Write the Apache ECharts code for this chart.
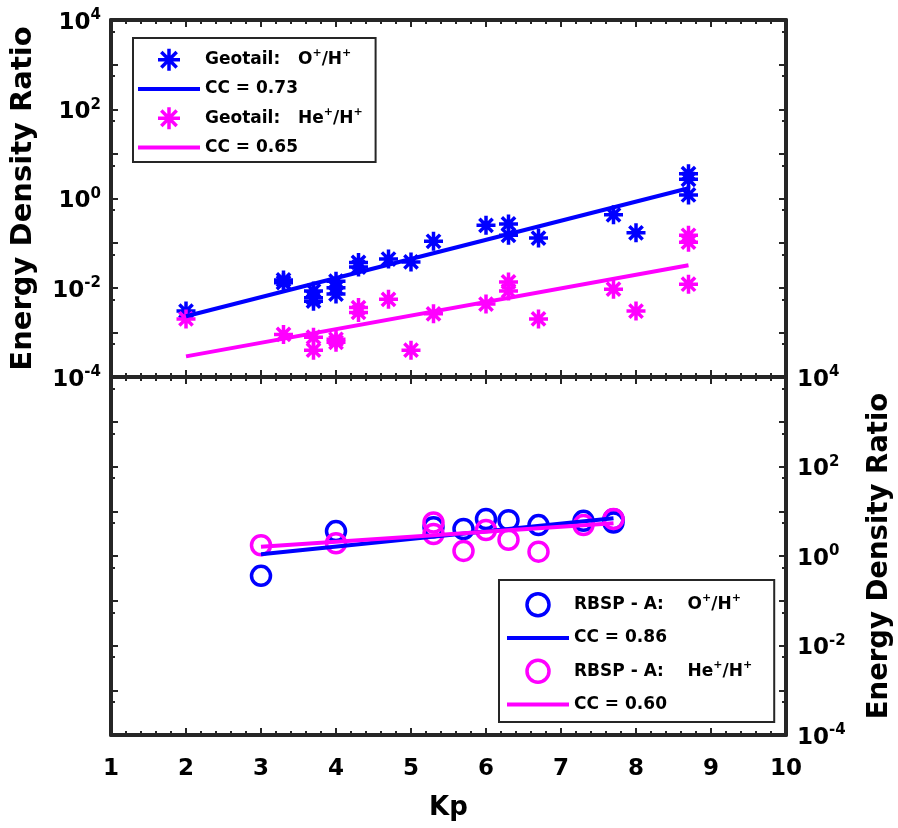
<!DOCTYPE html>
<html><head><meta charset="utf-8">
<script src="https://cdn.jsdelivr.net/npm/echarts@6/dist/echarts.min.js"></script>
<style>html,body{margin:0;padding:0;background:#fff;overflow:hidden}#c{width:898px;height:828px}</style>
</head><body><div id="c"></div>
<script>
// ---- data ----
const geoKpO  = [2, 3.3, 3.3, 3.7, 3.7, 3.7, 4.0, 4.0, 4.0, 4.3, 4.3, 4.7, 5.0, 5.3, 6.0, 6.3, 6.3, 6.7, 7.7, 8.0, 8.7, 8.7, 8.7];
const geoValO = [0.003, 0.015, 0.013, 0.0085, 0.006, 0.005, 0.014, 0.01, 0.0072, 0.037, 0.029, 0.044, 0.038, 0.11, 0.25, 0.27, 0.15, 0.13, 0.43, 0.17, 3.6, 2.7, 1.2];
const geoKpHe  = [2, 3.3, 3.7, 3.7, 4.0, 4.0, 4.3, 4.3, 4.7, 5.0, 5.3, 6.0, 6.3, 6.3, 6.7, 7.7, 8.0, 8.7, 8.7, 8.7];
const geoValHe = [0.002, 0.0009, 0.00078, 0.0004, 0.0007, 0.0006, 0.0036, 0.0028, 0.0055, 0.0004, 0.0026, 0.0043, 0.0135, 0.0085, 0.002, 0.0093, 0.003, 0.15, 0.105, 0.012];
const geoFitKp  = [2, 8.7];
const geoFitO   = [0.0023, 1.7];
const geoFitHe  = [0.00029, 0.032];

const rbKpO  = [3, 4, 5.3, 5.7, 6.0, 6.3, 6.7, 7.3, 7.7, 7.7];
const rbValO = [0.36, 3.6, 4.4, 4.0, 6.7, 6.3, 4.9, 6.1, 6.6, 5.6];
const rbKpHe  = [3, 4, 5.3, 5.3, 5.7, 6.0, 6.3, 6.7, 7.3, 7.7];
const rbValHe = [1.74, 1.93, 5.6, 3.1, 1.3, 3.8, 2.3, 1.25, 4.9, 6.7];
const rbFitKp = [3, 7.7];
const rbFitO  = [1.1, 7.0];
const rbFitHe = [1.6, 5.4];

const legendNames = ['Geotail:   O+/H+', 'CC = 0.73', 'Geotail:   He+/H+', 'CC = 0.65',
                     'RBSP - A:    O+/H+', 'CC = 0.86', 'RBSP - A:    He+/H+', 'CC = 0.60'];
const yLabelTitle = 'Energy Density Ratio';
const xLabelTitle = 'Kp';

// ---- styling ----
const F = 'DejaVu Sans';
const AX = '#262626';
const BLUE = '#0000ff', MAG = '#ff00ff';
const STAR = 'path://M0,-10L0,10M-10,0L10,0M-7,-7L7,7M-7,7L7,-7';
const LINEICON = 'path://M0,0L62,0L62,4L0,4Z';

const zip = (a, b) => a.map((v, i) => [v, b[i]]);

function xAxis(gridIndex, position, showLabel) {
  return {
    type: 'value', gridIndex, position, min: 1, max: 10, interval: 1,
    name: showLabel ? xLabelTitle : '', nameLocation: 'middle', nameGap: 60,
    nameTextStyle: { fontFamily: F, fontWeight: 'bold', fontSize: 26, color: '#000' },
    axisLine: { show: true, onZero: false, lineStyle: { color: AX, width: 4 } },
    axisTick: { show: true, inside: true, length: 7, lineStyle: { color: AX, width: 2 } },
    minorTick: { show: true, splitNumber: 5, length: 4, lineStyle: { color: AX, width: 2 } },
    splitLine: { show: false },
    axisLabel: { show: showLabel, margin: 23, fontFamily: F, fontWeight: 'bold', fontSize: 23, color: '#000' }
  };
}
const richY = {
  b: { fontFamily: F, fontWeight: 'bold', fontSize: 23, lineHeight: 30, color: '#000' },
  s: { fontFamily: F, fontWeight: 'bold', fontSize: 15, lineHeight: 12, verticalAlign: 'top', color: '#000' }
};
function yAxis(gridIndex, position, showLabel) {
  const left = position === 'left';
  return {
    type: 'log', logBase: 10, gridIndex, position, min: 1e-4, max: 1e4, splitNumber: 8,
    name: showLabel ? yLabelTitle : '', nameLocation: 'middle', nameRotate: 90,
    nameGap: left ? 73 : 80,
    nameTextStyle: { fontFamily: F, fontWeight: 'bold', fontSize: left ? 29 : 27.5, color: '#000' },
    axisLine: { show: true, onZero: false, lineStyle: { color: AX, width: 4 } },
    axisTick: { show: true, inside: true, length: 7, lineStyle: { color: AX, width: 2 } },
    minorTick: { show: true, splitNumber: 2, length: 4, lineStyle: { color: AX, width: 2 } },
    splitLine: { show: false },
    axisLabel: {
      show: showLabel, margin: left ? 10 : 11, padding: [6, 0, 0, 0], rich: richY,
      formatter: v => { const e = Math.round(Math.log10(v)); return e % 2 ? '' : '{b|10}{s|' + e + '}'; }
    }
  };
}
const richL = {
  a: { fontFamily: F, fontWeight: 'bold', fontSize: 17, lineHeight: 24, color: '#000' },
  s: { fontFamily: F, fontWeight: 'bold', fontSize: 11, lineHeight: 8, verticalAlign: 'top', color: '#000' }
};
function legendFmt(name) {
  if (name.indexOf('+') < 0) return '{a|' + name + '}';
  const m = name.match(/^(.*?)(\w+)\+\/H\+$/);
  return '{a|' + m[1] + m[2] + '}{s|+}{a|/H}{s|+}';
}
function scatter(name, kp, val, color, symbol, xi, yi) {
  return { type: 'scatter', name, xAxisIndex: xi, yAxisIndex: yi, data: zip(kp, val),
    symbol, symbolSize: 19,
    itemStyle: { color: symbol === STAR ? color : 'rgba(0,0,0,0)', borderColor: color, borderWidth: 3.5, opacity: 1 } };
}
function fit(name, kp, val, color, xi, yi) {
  return { type: 'line', name, xAxisIndex: xi, yAxisIndex: yi, data: zip(kp, val),
    symbol: 'none', lineStyle: { color, width: 4 }, itemStyle: { color } };
}
function legend(idx0, left, top, padding, gap) {
  const cols = [BLUE, BLUE, MAG, MAG];
  return {
    data: legendNames.slice(idx0, idx0 + 4).map((n, i) => i % 2
      ? { name: n, icon: LINEICON, itemStyle: { color: cols[i], borderWidth: 0 } }
      : { name: n }),
    orient: 'vertical', left, top, padding,
    itemWidth: 62, itemHeight: 22, itemGap: gap, selectedMode: false,
    backgroundColor: '#fff', borderColor: AX, borderWidth: 2, borderRadius: 0,
    itemStyle: { borderWidth: 3.5 }, lineStyle: { width: 4 },
    formatter: legendFmt, textStyle: { rich: richL }
  };
}

const chart = echarts.init(document.getElementById('c'), null, { renderer: 'canvas' });
chart.setOption({
  animation: false,
  backgroundColor: '#fff',
  grid: [
    { left: 111, right: 112, top: 20, height: 357, outerBoundsMode: 'none', containLabel: false },
    { left: 111, right: 112, top: 377, height: 358, outerBoundsMode: 'none', containLabel: false }
  ],
  xAxis: [xAxis(0, 'bottom', false), xAxis(0, 'top', false), xAxis(1, 'bottom', true), xAxis(1, 'top', false)],
  yAxis: [yAxis(0, 'left', true), yAxis(0, 'right', false), yAxis(1, 'right', true), yAxis(1, 'left', false)],
  legend: [legend(0, 133, 38, [9, 13, 6, 5], 8), legend(4, 499, 580, [12, 22, 9, 8], 12)],
  series: [
    scatter(legendNames[0], geoKpO, geoValO, BLUE, STAR, 0, 0),
    fit(legendNames[1], geoFitKp, geoFitO, BLUE, 0, 0),
    scatter(legendNames[2], geoKpHe, geoValHe, MAG, STAR, 0, 0),
    fit(legendNames[3], geoFitKp, geoFitHe, MAG, 0, 0),
    scatter(legendNames[4], rbKpO, rbValO, BLUE, 'circle', 2, 2),
    fit(legendNames[5], rbFitKp, rbFitO, BLUE, 2, 2),
    scatter(legendNames[6], rbKpHe, rbValHe, MAG, 'circle', 2, 2),
    fit(legendNames[7], rbFitKp, rbFitHe, MAG, 2, 2)
  ]
});
</script></body></html>
